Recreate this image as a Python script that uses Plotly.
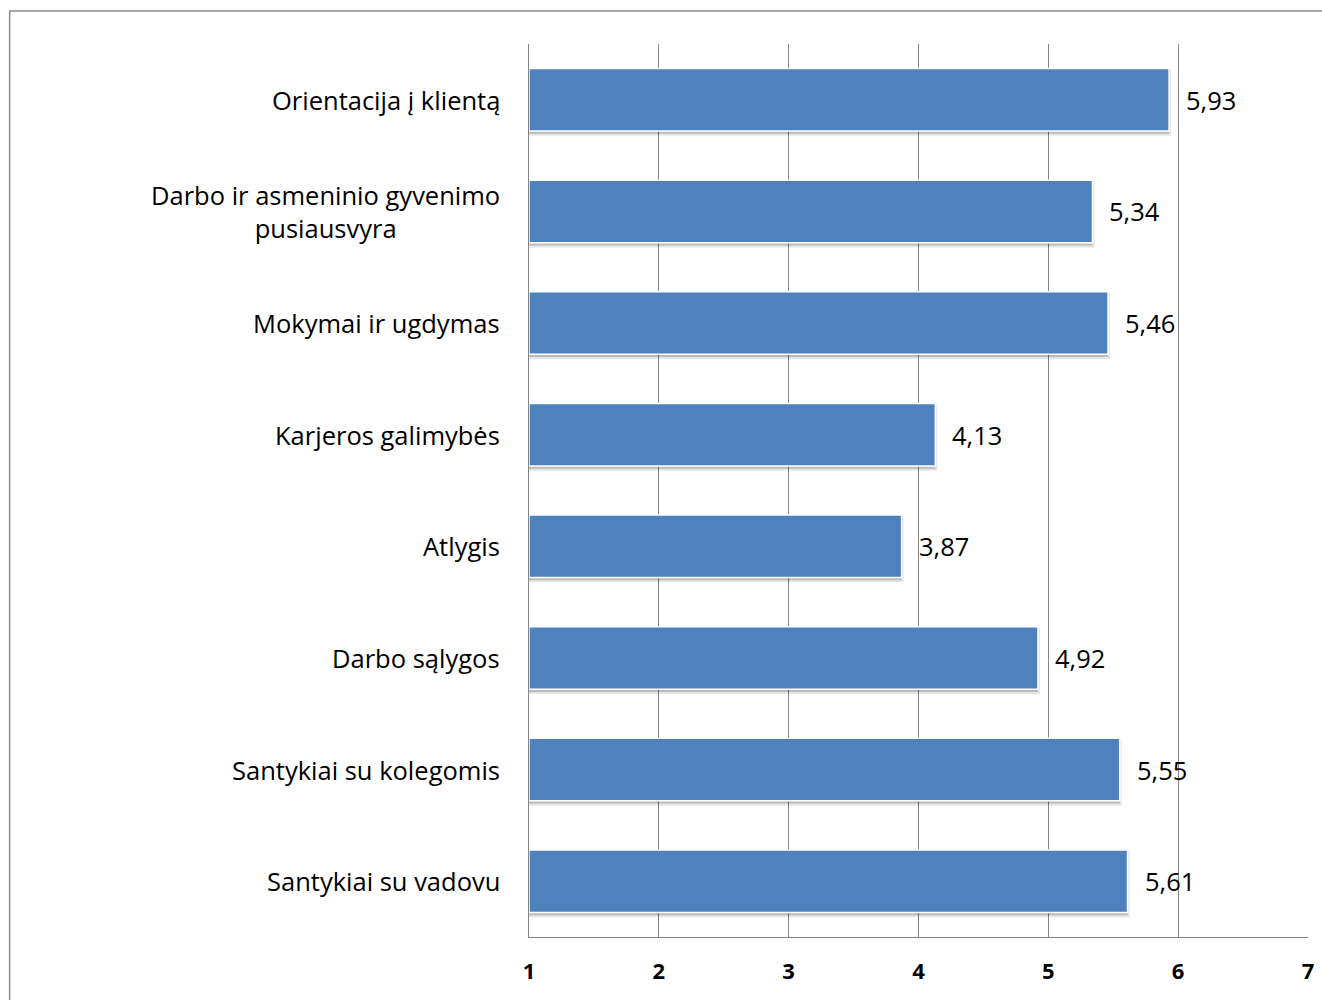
import plotly.graph_objects as go

# Category labels (top to bottom) and mean scores
categories = [
    "Orientacija į klientą",
    "Darbo ir asmeninio gyvenimo<br>pusiausvyra",
    "Mokymai ir ugdymas",
    "Karjeros galimybės",
    "Atlygis",
    "Darbo sąlygos",
    "Santykiai su kolegomis",
    "Santykiai su vadovu",
]
values = [5.93, 5.34, 5.46, 4.13, 3.87, 4.92, 5.55, 5.61]
tick_values = [1, 2, 3, 4, 5, 6, 7]

FONT = "Open Sans"
BAR_COLOR = "#4F81BD"
GRID_COLOR = "#868686"

fig = go.Figure()

# soft drop shadow under each bar
fig.add_trace(go.Bar(
    y=categories, x=[v - 1 for v in values], base=1, orientation="h",
    marker=dict(color="rgba(0,0,0,0.18)", line=dict(color="rgba(0,0,0,0.10)", width=4)),
    width=0.56, offset=-0.305, hoverinfo="skip", showlegend=False,
))

# main bars with a thin white outline
fig.add_trace(go.Bar(
    y=categories, x=[v - 1 for v in values], base=1, orientation="h",
    marker=dict(color=BAR_COLOR, line=dict(color="white", width=1.5)),
    width=0.56, hoverinfo="skip", showlegend=False,
))

annotations = []
# category labels, right aligned against the axis, lines centred
for cat in categories:
    annotations.append(dict(
        xref="paper", yref="y", x=0, y=cat, xshift=-27,
        xanchor="right", yanchor="middle", align="center",
        text=cat, showarrow=False,
        font=dict(family=FONT, size=25.5, color="black"),
    ))
# value labels with decimal comma
for cat, v in zip(categories, values):
    annotations.append(dict(
        xref="x", yref="y", x=v, y=cat, xshift=15,
        xanchor="left", yanchor="middle",
        text=f"{v:.2f}".replace(".", ","), showarrow=False,
        font=dict(family=FONT, size=25.5, color="black"),
    ))

fig.update_layout(
    width=1322, height=1000,
    margin=dict(l=529, r=8, t=44, b=63),
    paper_bgcolor="white", plot_bgcolor="white",
    barmode="overlay",
    annotations=annotations,
    shapes=[dict(
        type="rect", xref="paper", yref="paper",
        x0=-0.6667, x1=1.05, y0=-0.12, y1=1.0369,
        line=dict(color="#8C8C8C", width=1.5), fillcolor="rgba(0,0,0,0)", layer="below",
    )],
    xaxis=dict(
        range=[1, 7], tickvals=tick_values, ticktext=[str(t) for t in tick_values],
        showgrid=True, gridcolor=GRID_COLOR, gridwidth=1.4,
        showline=True, linecolor=GRID_COLOR, linewidth=1.4,
        zeroline=False, ticks="", ticklabelstandoff=14,
        tickfont=dict(family=FONT, size=22, color="black", weight="bold"),
        layer="below traces",
    ),
    yaxis=dict(
        categoryorder="array", categoryarray=categories[::-1],
        showticklabels=False, showgrid=False,
        showline=True, linecolor=GRID_COLOR, linewidth=1.4,
        zeroline=False, ticks="",
    ),
)

fig.write_html("out.html")
